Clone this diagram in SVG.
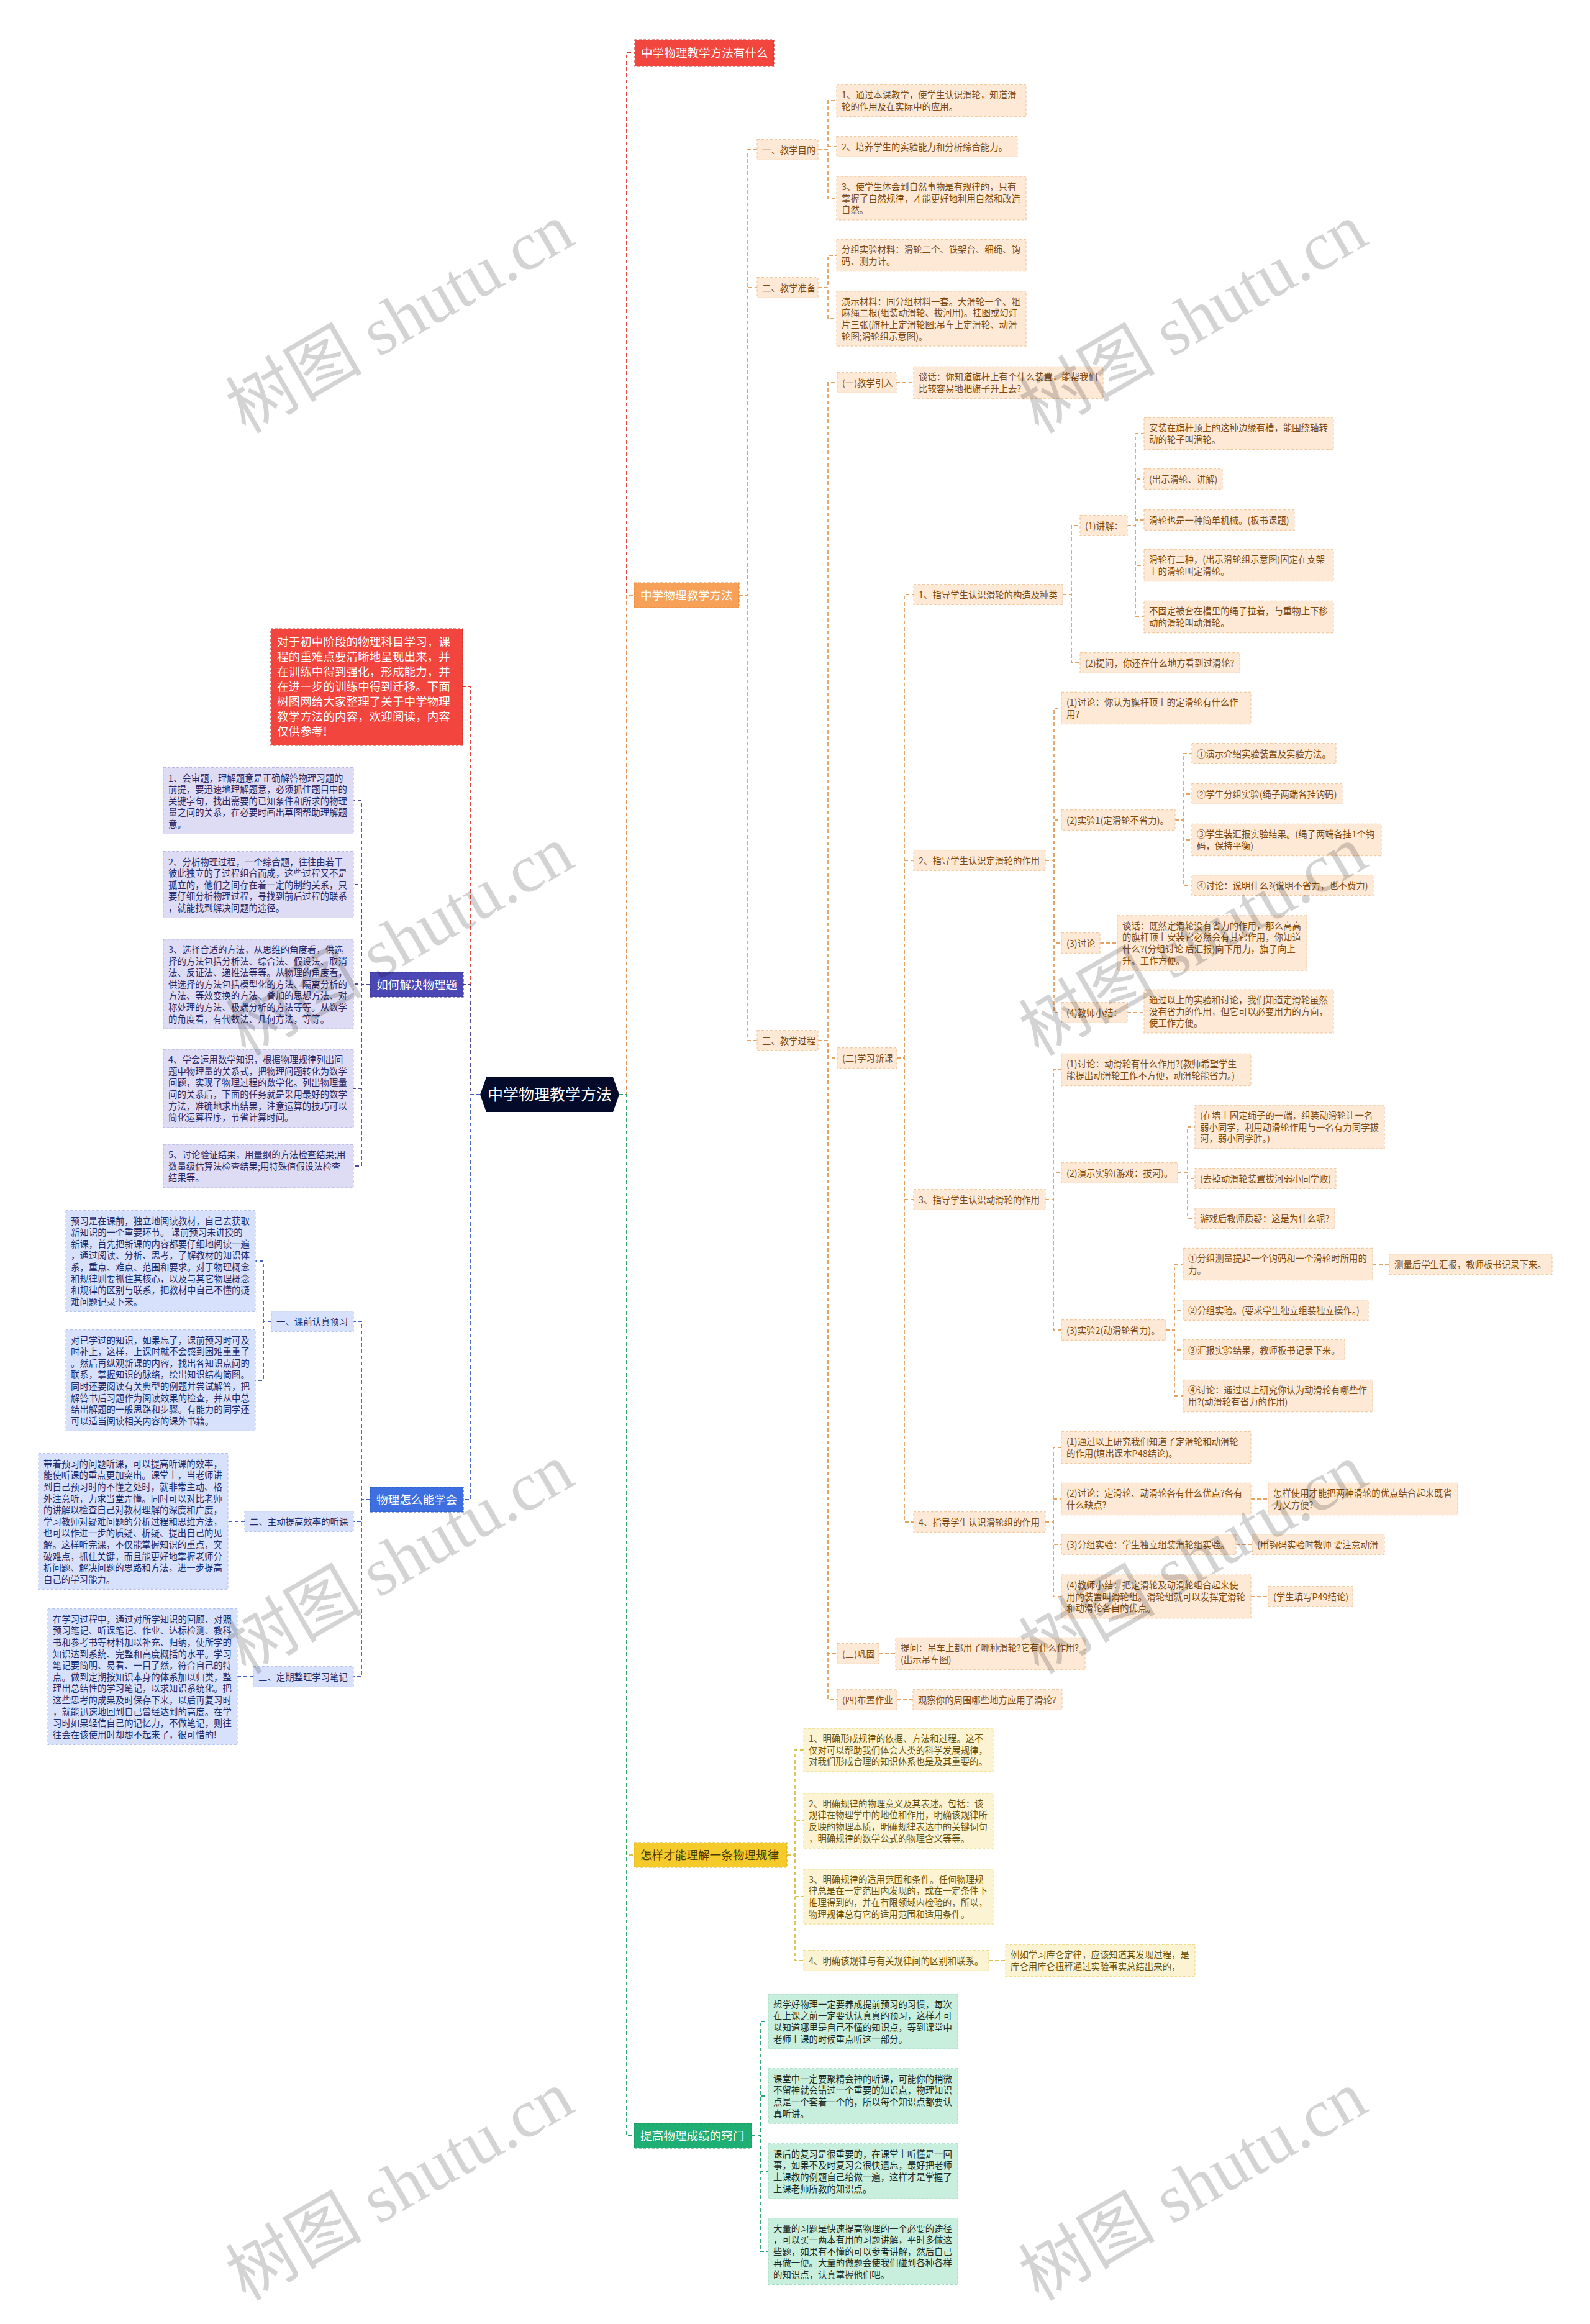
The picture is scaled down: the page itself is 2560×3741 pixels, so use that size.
<svg xmlns="http://www.w3.org/2000/svg" width="2560" height="3741" viewBox="0 0 2560 3741">
<style>
.s{font-family:"Noto Sans CJK SC","Noto Sans",sans-serif;font-size:14.4px}
.m{font-family:"Noto Sans CJK SC","Noto Sans",sans-serif;font-size:18.6px;fill:#fff}
rect.b{stroke-width:1.2;stroke-dasharray:4 3}
.bo{fill:#fde9d6;stroke:#f3c9a0}.to{fill:#7c4a12}
.by{fill:#fcf3d2;stroke:#eedc8a}.ty{fill:#6a5510}
.bg{fill:#c8efdd;stroke:#9fdcc0}.tg{fill:#1d2b26}
.bp{fill:#dddcf4;stroke:#b9b7e6}.tp{fill:#2a2866}
.bb{fill:#d8e1fb;stroke:#b3c3f2}.tb{fill:#1d2c6e}
.c{fill:none;stroke-width:1.8;stroke-dasharray:6 4}
.cr{stroke:#de3b33}.co{stroke:#e6a060}.cy{stroke:#d8c24c}.cg{stroke:#25a46c}.cp{stroke:#4b489c}.cb{stroke:#3c5fc4}
.w{font-family:"Liberation Serif","Noto Sans CJK SC",serif;font-size:110px;fill:#000;opacity:0.17}
</style>

<g id="connectors">
<path class="c cr" d="M997 1762H1009V85H1022"/>
<path class="c co" d="M997 1762H1009V958H1021"/>
<path class="c cy" d="M997 1762H1009V2986H1021"/>
<path class="c cg" d="M997 1762H1009V3438H1021"/>
<path class="c cr" d="M773 1762H758V1105H745"/>
<path class="c cp" d="M773 1762H758V1585H746"/>
<path class="c cb" d="M773 1762H758V2414H746"/>

<path class="c co" d="M1190 958H1204V241H1219"/>
<path class="c co" d="M1190 958H1204V463H1219"/>
<path class="c co" d="M1190 958H1204V1675H1219"/>
<path class="c co" d="M1317 241H1333V162H1347"/>
<path class="c co" d="M1317 241H1333V236H1347"/>
<path class="c co" d="M1317 241H1333V319H1347"/>
<path class="c co" d="M1317 463H1333V411H1347"/>
<path class="c co" d="M1317 463H1333V513H1347"/>
<path class="c co" d="M1317 1675H1333V616H1348"/>
<path class="c co" d="M1317 1675H1333V1703H1348"/>
<path class="c co" d="M1317 1675H1333V2662H1348"/>
<path class="c co" d="M1317 1675H1333V2736H1348"/>
<path class="c co" d="M1443 616H1471"/>
<path class="c co" d="M1415 2662H1442"/>
<path class="c co" d="M1444 2736H1470"/>
<path class="c co" d="M1444 1703H1456V957H1471"/>
<path class="c co" d="M1444 1703H1456V1385H1471"/>
<path class="c co" d="M1444 1703H1456V1931H1471"/>
<path class="c co" d="M1444 1703H1456V2450H1471"/>
<path class="c co" d="M1711 957H1725V846H1739"/>
<path class="c co" d="M1711 957H1725V1067H1739"/>
<path class="c co" d="M1815 846H1828V698H1842"/>
<path class="c co" d="M1815 846H1828V771H1842"/>
<path class="c co" d="M1815 846H1828V837H1842"/>
<path class="c co" d="M1815 846H1828V910H1842"/>
<path class="c co" d="M1815 846H1828V993H1842"/>
<path class="c co" d="M1683 1385H1697V1140H1709"/>
<path class="c co" d="M1683 1385H1697V1320H1709"/>
<path class="c co" d="M1683 1385H1697V1518H1709"/>
<path class="c co" d="M1683 1385H1697V1630H1709"/>
<path class="c co" d="M1771 1518H1799"/>
<path class="c co" d="M1815 1630H1842"/>
<path class="c co" d="M1892 1320H1905V1213H1919"/>
<path class="c co" d="M1892 1320H1905V1278H1919"/>
<path class="c co" d="M1892 1320H1905V1352H1919"/>
<path class="c co" d="M1892 1320H1905V1425H1919"/>
<path class="c co" d="M1683 1931H1696V1722H1709"/>
<path class="c co" d="M1683 1931H1696V1888H1709"/>
<path class="c co" d="M1683 1931H1696V2141H1709"/>
<path class="c co" d="M1896 1888H1912V1814H1924"/>
<path class="c co" d="M1896 1888H1912V1897H1924"/>
<path class="c co" d="M1896 1888H1912V1961H1924"/>
<path class="c co" d="M1877 2141H1891V2035H1905"/>
<path class="c co" d="M1877 2141H1891V2109H1905"/>
<path class="c co" d="M1877 2141H1891V2173H1905"/>
<path class="c co" d="M1877 2141H1891V2247H1905"/>
<path class="c co" d="M2210 2035H2237"/>
<path class="c co" d="M1683 2450H1696V2330H1709"/>
<path class="c co" d="M1683 2450H1696V2413H1709"/>
<path class="c co" d="M1683 2450H1696V2486H1709"/>
<path class="c co" d="M1683 2450H1696V2570H1709"/>
<path class="c co" d="M2014 2413H2042"/>
<path class="c co" d="M1990 2486H2016"/>
<path class="c co" d="M2014 2570H2042"/>

<path class="c cy" d="M1267 2986H1280V2817H1294"/>
<path class="c cy" d="M1267 2986H1280V2931H1294"/>
<path class="c cy" d="M1267 2986H1280V3053H1294"/>
<path class="c cy" d="M1267 2986H1280V3156H1294"/>
<path class="c cy" d="M1592 3156H1619"/>

<path class="c cg" d="M1210 3438H1224V3254H1237"/>
<path class="c cg" d="M1210 3438H1224V3374H1237"/>
<path class="c cg" d="M1210 3438H1224V3495H1237"/>
<path class="c cg" d="M1210 3438H1224V3624H1237"/>

<path class="c cp" d="M596 1585H582V1289H569"/>
<path class="c cp" d="M596 1585H582V1424H569"/>
<path class="c cp" d="M596 1585H582V1584H569"/>
<path class="c cp" d="M596 1585H582V1752H569"/>
<path class="c cp" d="M596 1585H582V1877H569"/>

<path class="c cb" d="M596 2414H582V2127H569"/>
<path class="c cb" d="M596 2414H582V2449H569"/>
<path class="c cb" d="M596 2414H582V2699H569"/>
<path class="c cb" d="M437 2127H424V2030H411"/>
<path class="c cb" d="M437 2127H424V2222H411"/>
<path class="c cb" d="M394 2449H367"/>
<path class="c cb" d="M408 2699H382"/>
</g>

<g id="root">
<polygon points="773,1762 783,1734 987,1734 997,1762 987,1790 783,1790" fill="#040a2a"/>
<text x="885" y="1771" text-anchor="middle" style="font-family:'Noto Sans CJK SC',sans-serif;font-size:25px;fill:#fff">中学物理教学方法</text>
</g>

<g id="n-red">
<rect x="1022" y="64" width="224" height="43" fill="#f2453d" stroke="#c8302a" stroke-width="1.2" stroke-dasharray="4 3"/>
<text class="m" x="1032" y="91.7">中学物理教学方法有什么</text>
</g>
<g id="n-orange">
<rect x="1021" y="938" width="169" height="40" fill="#f6a157" stroke="#dd8a40" stroke-width="1.2" stroke-dasharray="4 3"/>
<text class="m" x="1031" y="964.7">中学物理教学方法</text>
</g>
<g id="n-yellow">
<rect x="1021" y="2966" width="246" height="40" fill="#f4cb2a" stroke="#d8b020" stroke-width="1.2" stroke-dasharray="4 3"/>
<text class="m" x="1031" y="2992.7" style="fill:#4a3c00">怎样才能理解一条物理规律</text>
</g>
<g id="n-green">
<rect x="1021" y="3418" width="189" height="40" fill="#1fae74" stroke="#16905f" stroke-width="1.2" stroke-dasharray="4 3"/>
<text class="m" x="1031" y="3444.7">提高物理成绩的窍门</text>
</g>
<g id="n-intro">
<rect x="436" y="1012" width="309" height="188" fill="#f2453d" stroke="#c8302a" stroke-width="1.2" stroke-dasharray="4 3"/>
<text class="m" x="446" y="1040"><tspan x="446">对于初中阶段的物理科目学习，课</tspan><tspan x="446" dy="24">程的重难点要清晰地呈现出来，并</tspan><tspan x="446" dy="24">在训练中得到强化，形成能力，并</tspan><tspan x="446" dy="24">在进一步的训练中得到迁移。下面</tspan><tspan x="446" dy="24">树图网给大家整理了关于中学物理</tspan><tspan x="446" dy="24">教学方法的内容，欢迎阅读，内容</tspan><tspan x="446" dy="24">仅供参考!</tspan></text>
</g>
<g id="n-purple">
<rect x="596" y="1565" width="150" height="40" fill="#4b47b5" stroke="#34318a" stroke-width="1.2" stroke-dasharray="4 3"/>
<text class="m" x="606" y="1591.7">如何解决物理题</text>
</g>
<g id="n-blue">
<rect x="596" y="2394" width="150" height="40" fill="#3d6fe0" stroke="#2a55b8" stroke-width="1.2" stroke-dasharray="4 3"/>
<text class="m" x="606" y="2420.7">物理怎么能学会</text>
</g>

<g id="a1"><rect class="b bo" x="1219" y="224.7" width="98" height="32.6"/><text class="s to" x="1227" y="246.7">一、教学目的</text></g>
<g id="a2"><rect class="b bo" x="1219" y="446.7" width="98" height="32.6"/><text class="s to" x="1227" y="468.7">二、教学准备</text></g>
<g id="a3"><rect class="b bo" x="1219" y="1658.7" width="98" height="32.6"/><text class="s to" x="1227" y="1680.7">三、教学过程</text></g>

<g id="c1"><rect class="b bo" x="1347" y="136.4" width="305" height="51.2"/><text class="s to" x="1355" y="158.4"><tspan x="1355">1、通过本课教学，使学生认识滑轮，知道滑</tspan><tspan x="1355" dy="18.6">轮的作用及在实际中的应用。</tspan></text></g>
<g id="c2"><rect class="b bo" x="1347" y="219.7" width="291" height="32.6"/><text class="s to" x="1355" y="241.7">2、培养学生的实验能力和分析综合能力。</text></g>
<g id="c3"><rect class="b bo" x="1347" y="284.1" width="305" height="69.8"/><text class="s to" x="1355" y="306.1"><tspan x="1355">3、使学生体会到自然事物是有规律的，只有</tspan><tspan x="1355" dy="18.6">掌握了自然规律，才能更好地利用自然和改造</tspan><tspan x="1355" dy="18.6">自然。</tspan></text></g>
<g id="d1"><rect class="b bo" x="1347" y="385.4" width="305" height="51.2"/><text class="s to" x="1355" y="407.4"><tspan x="1355">分组实验材料：滑轮二个、铁架台、细绳、钩</tspan><tspan x="1355" dy="18.6">码、测力计。</tspan></text></g>
<g id="d2"><rect class="b bo" x="1347" y="468.8" width="305" height="88.4"/><text class="s to" x="1355" y="490.8"><tspan x="1355">演示材料：同分组材料一套。大滑轮一个、粗</tspan><tspan x="1355" dy="18.6">麻绳二根(组装动滑轮、拔河用)。挂图或幻灯</tspan><tspan x="1355" dy="18.6">片三张(旗杆上定滑轮图;吊车上定滑轮、动滑</tspan><tspan x="1355" dy="18.6">轮图;滑轮组示意图)。</tspan></text></g>

<g id="e1"><rect class="b bo" x="1348" y="599.7" width="95" height="32.6"/><text class="s to" x="1356" y="621.7">(一)教学引入</text></g>
<g id="e1a"><rect class="b bo" x="1471" y="590.4" width="305" height="51.2"/><text class="s to" x="1479" y="612.4"><tspan x="1479">谈话：你知道旗杆上有个什么装置，能帮我们</tspan><tspan x="1479" dy="18.6">比较容易地把旗子升上去?</tspan></text></g>
<g id="e2"><rect class="b bo" x="1348" y="1686.7" width="96" height="32.6"/><text class="s to" x="1356" y="1708.7">(二)学习新课</text></g>
<g id="e3"><rect class="b bo" x="1348" y="2645.7" width="67" height="32.6"/><text class="s to" x="1356" y="2667.7">(三)巩固</text></g>
<g id="e3a"><rect class="b bo" x="1442" y="2636.4" width="305" height="51.2"/><text class="s to" x="1450" y="2658.4"><tspan x="1450">提问：吊车上都用了哪种滑轮?它有什么作用?</tspan><tspan x="1450" dy="18.6">(出示吊车图)</tspan></text></g>
<g id="e4"><rect class="b bo" x="1348" y="2719.7" width="96" height="32.6"/><text class="s to" x="1356" y="2741.7">(四)布置作业</text></g>
<g id="e4a"><rect class="b bo" x="1470" y="2719.7" width="240" height="32.6"/><text class="s to" x="1478" y="2741.7">观察你的周围哪些地方应用了滑轮?</text></g>

<g id="b1"><rect class="b bo" x="1471" y="940.7" width="240" height="32.6"/><text class="s to" x="1479" y="962.7">1、指导学生认识滑轮的构造及种类</text></g>
<g id="b2"><rect class="b bo" x="1471" y="1368.7" width="212" height="32.6"/><text class="s to" x="1479" y="1390.7">2、指导学生认识定滑轮的作用</text></g>
<g id="b3"><rect class="b bo" x="1471" y="1914.7" width="212" height="32.6"/><text class="s to" x="1479" y="1936.7">3、指导学生认识动滑轮的作用</text></g>
<g id="b4"><rect class="b bo" x="1471" y="2433.7" width="212" height="32.6"/><text class="s to" x="1479" y="2455.7">4、指导学生认识滑轮组的作用</text></g>

<g id="f1"><rect class="b bo" x="1739" y="829.7" width="76" height="32.6"/><text class="s to" x="1747" y="851.7">(1)讲解：</text></g>
<g id="f2"><rect class="b bo" x="1739" y="1050.7" width="257" height="32.6"/><text class="s to" x="1747" y="1072.7">(2)提问，你还在什么地方看到过滑轮?</text></g>
<g id="g1"><rect class="b bo" x="1842" y="672.4" width="305" height="51.2"/><text class="s to" x="1850" y="694.4"><tspan x="1850">安装在旗杆顶上的这种边缘有槽，能围绕轴转</tspan><tspan x="1850" dy="18.6">动的轮子叫滑轮。</tspan></text></g>
<g id="g2"><rect class="b bo" x="1842" y="754.7" width="126" height="32.6"/><text class="s to" x="1850" y="776.7">(出示滑轮、讲解)</text></g>
<g id="g3"><rect class="b bo" x="1842" y="820.7" width="242" height="32.6"/><text class="s to" x="1850" y="842.7">滑轮也是一种简单机械。(板书课题)</text></g>
<g id="g4"><rect class="b bo" x="1842" y="884.4" width="305" height="51.2"/><text class="s to" x="1850" y="906.4"><tspan x="1850">滑轮有二种，(出示滑轮组示意图)固定在支架</tspan><tspan x="1850" dy="18.6">上的滑轮叫定滑轮。</tspan></text></g>
<g id="g5"><rect class="b bo" x="1842" y="967.4" width="305" height="51.2"/><text class="s to" x="1850" y="989.4"><tspan x="1850">不固定被套在槽里的绳子拉着，与重物上下移</tspan><tspan x="1850" dy="18.6">动的滑轮叫动滑轮。</tspan></text></g>

<g id="h1"><rect class="b bo" x="1709" y="1114.4" width="305" height="51.2"/><text class="s to" x="1717" y="1136.4"><tspan x="1717">(1)讨论：你认为旗杆顶上的定滑轮有什么作</tspan><tspan x="1717" dy="18.6">用?</tspan></text></g>
<g id="h2"><rect class="b bo" x="1709" y="1303.7" width="183" height="32.6"/><text class="s to" x="1717" y="1325.7">(2)实验1(定滑轮不省力)。</text></g>
<g id="h3"><rect class="b bo" x="1709" y="1501.7" width="62" height="32.6"/><text class="s to" x="1717" y="1523.7">(3)讨论</text></g>
<g id="h3a"><rect class="b bo" x="1799" y="1473.8" width="305" height="88.4"/><text class="s to" x="1807" y="1495.8"><tspan x="1807">谈话：既然定滑轮没有省力的作用，那么高高</tspan><tspan x="1807" dy="18.6">的旗杆顶上安装它必然会有其它作用，你知道</tspan><tspan x="1807" dy="18.6">什么?(分组讨论 后汇报)向下用力，旗子向上</tspan><tspan x="1807" dy="18.6">升。工作方便。</tspan></text></g>
<g id="h4"><rect class="b bo" x="1709" y="1613.7" width="106" height="32.6"/><text class="s to" x="1717" y="1635.7">(4)教师小结：</text></g>
<g id="h4a"><rect class="b bo" x="1842" y="1593.1" width="305" height="69.8"/><text class="s to" x="1850" y="1615.1"><tspan x="1850">通过以上的实验和讨论，我们知道定滑轮虽然</tspan><tspan x="1850" dy="18.6">没有省力的作用，但它可以必变用力的方向，</tspan><tspan x="1850" dy="18.6">使工作方便。</tspan></text></g>
<g id="i1"><rect class="b bo" x="1919" y="1196.7" width="232" height="32.6"/><text class="s to" x="1927" y="1218.7">①演示介绍实验装置及实验方法。</text></g>
<g id="i2"><rect class="b bo" x="1919" y="1261.7" width="242" height="32.6"/><text class="s to" x="1927" y="1283.7">②学生分组实验(绳子两端各挂钩码)</text></g>
<g id="i3"><rect class="b bo" x="1919" y="1326.4" width="305" height="51.2"/><text class="s to" x="1927" y="1348.4"><tspan x="1927">③学生装汇报实验结果。(绳子两端各挂1个钩</tspan><tspan x="1927" dy="18.6">码，保持平衡)</tspan></text></g>
<g id="i4"><rect class="b bo" x="1919" y="1408.7" width="292" height="32.6"/><text class="s to" x="1927" y="1430.7">④讨论：说明什么?(说明不省力，也不费力)</text></g>

<g id="j1"><rect class="b bo" x="1709" y="1696.4" width="305" height="51.2"/><text class="s to" x="1717" y="1718.4"><tspan x="1717">(1)讨论：动滑轮有什么作用?(教师希望学生</tspan><tspan x="1717" dy="18.6">能提出动滑轮工作不方便，动滑轮能省力。)</tspan></text></g>
<g id="j2"><rect class="b bo" x="1709" y="1871.7" width="187" height="32.6"/><text class="s to" x="1717" y="1893.7">(2)演示实验(游戏：拔河)。</text></g>
<g id="j3"><rect class="b bo" x="1709" y="2124.7" width="168" height="32.6"/><text class="s to" x="1717" y="2146.7">(3)实验2(动滑轮省力)。</text></g>
<g id="k1"><rect class="b bo" x="1924" y="1779.1" width="305" height="69.8"/><text class="s to" x="1932" y="1801.1"><tspan x="1932">(在墙上固定绳子的一端，组装动滑轮让一名</tspan><tspan x="1932" dy="18.6">弱小同学，利用动滑轮作用与一名有力同学拔</tspan><tspan x="1932" dy="18.6">河，弱小同学胜。)</tspan></text></g>
<g id="k2"><rect class="b bo" x="1924" y="1880.7" width="227" height="32.6"/><text class="s to" x="1932" y="1902.7">(去掉动滑轮装置拔河弱小同学败)</text></g>
<g id="k3"><rect class="b bo" x="1924" y="1944.7" width="225" height="32.6"/><text class="s to" x="1932" y="1966.7">游戏后教师质疑：这是为什么呢?</text></g>
<g id="l1"><rect class="b bo" x="1905" y="2009.4" width="305" height="51.2"/><text class="s to" x="1913" y="2031.4"><tspan x="1913">①分组测量提起一个钩码和一个滑轮时所用的</tspan><tspan x="1913" dy="18.6">力。</tspan></text></g>
<g id="l1a"><rect class="b bo" x="2237" y="2018.7" width="262" height="32.6"/><text class="s to" x="2245" y="2040.7">测量后学生汇报，教师板书记录下来。</text></g>
<g id="l2"><rect class="b bo" x="1905" y="2092.7" width="298" height="32.6"/><text class="s to" x="1913" y="2114.7">②分组实验。(要求学生独立组装独立操作。)</text></g>
<g id="l3"><rect class="b bo" x="1905" y="2156.7" width="260" height="32.6"/><text class="s to" x="1913" y="2178.7">③汇报实验结果，教师板书记录下来。</text></g>
<g id="l4"><rect class="b bo" x="1905" y="2221.4" width="305" height="51.2"/><text class="s to" x="1913" y="2243.4"><tspan x="1913">④讨论：通过以上研究你认为动滑轮有哪些作</tspan><tspan x="1913" dy="18.6">用?(动滑轮有省力的作用)</tspan></text></g>

<g id="m1"><rect class="b bo" x="1709" y="2304.4" width="305" height="51.2"/><text class="s to" x="1717" y="2326.4"><tspan x="1717">(1)通过以上研究我们知道了定滑轮和动滑轮</tspan><tspan x="1717" dy="18.6">的作用(填出课本P48结论)。</tspan></text></g>
<g id="m2"><rect class="b bo" x="1709" y="2387.4" width="305" height="51.2"/><text class="s to" x="1717" y="2409.4"><tspan x="1717">(2)讨论：定滑轮、动滑轮各有什么优点?各有</tspan><tspan x="1717" dy="18.6">什么缺点?</tspan></text></g>
<g id="m2a"><rect class="b bo" x="2042" y="2387.4" width="305" height="51.2"/><text class="s to" x="2050" y="2409.4"><tspan x="2050">怎样使用才能把两种滑轮的优点结合起来既省</tspan><tspan x="2050" dy="18.6">力又方便?</tspan></text></g>
<g id="m3"><rect class="b bo" x="1709" y="2469.7" width="281" height="32.6"/><text class="s to" x="1717" y="2491.7">(3)分组实验：学生独立组装滑轮组实验。</text></g>
<g id="m3a"><rect class="b bo" x="2016" y="2469.7" width="213" height="32.6"/><text class="s to" x="2024" y="2491.7">(用钩码实验时教师 要注意动滑</text></g>
<g id="m4"><rect class="b bo" x="1709" y="2535.1" width="305" height="69.8"/><text class="s to" x="1717" y="2557.1"><tspan x="1717">(4)教师小结：把定滑轮及动滑轮组合起来使</tspan><tspan x="1717" dy="18.6">用的装置叫滑轮组。滑轮组就可以发挥定滑轮</tspan><tspan x="1717" dy="18.6">和动滑轮各自的优点。</tspan></text></g>
<g id="m4a"><rect class="b bo" x="2042" y="2553.7" width="136" height="32.6"/><text class="s to" x="2050" y="2575.7">(学生填写P49结论)</text></g>

<g id="y1"><rect class="b by" x="1294" y="2782.1" width="305" height="69.8"/><text class="s ty" x="1302" y="2804.1"><tspan x="1302">1、明确形成规律的依据、方法和过程。这不</tspan><tspan x="1302" dy="18.6">仅对可以帮助我们体会人类的科学发展规律，</tspan><tspan x="1302" dy="18.6">对我们形成合理的知识体系也是及其重要的。</tspan></text></g>
<g id="y2"><rect class="b by" x="1294" y="2886.8" width="305" height="88.4"/><text class="s ty" x="1302" y="2908.8"><tspan x="1302">2、明确规律的物理意义及其表述。包括：该</tspan><tspan x="1302" dy="18.6">规律在物理学中的地位和作用，明确该规律所</tspan><tspan x="1302" dy="18.6">反映的物理本质，明确规律表达中的关键词句</tspan><tspan x="1302" dy="18.6">，明确规律的数学公式的物理含义等等。</tspan></text></g>
<g id="y3"><rect class="b by" x="1294" y="3008.8" width="305" height="88.4"/><text class="s ty" x="1302" y="3030.8"><tspan x="1302">3、明确规律的适用范围和条件。任何物理规</tspan><tspan x="1302" dy="18.6">律总是在一定范围内发现的，或在一定条件下</tspan><tspan x="1302" dy="18.6">推理得到的，并在有限领域内检验的，所以，</tspan><tspan x="1302" dy="18.6">物理规律总有它的适用范围和适用条件。</tspan></text></g>
<g id="y4"><rect class="b by" x="1294" y="3139.7" width="298" height="32.6"/><text class="s ty" x="1302" y="3161.7">4、明确该规律与有关规律间的区别和联系。</text></g>
<g id="y4a"><rect class="b by" x="1619" y="3130.4" width="305" height="51.2"/><text class="s ty" x="1627" y="3152.4"><tspan x="1627">例如学习库仑定律，应该知道其发现过程，是</tspan><tspan x="1627" dy="18.6">库仑用库仑扭秤通过实验事实总结出来的，</tspan></text></g>

<g id="gr1"><rect class="b bg" x="1237" y="3209.8" width="305" height="88.4"/><text class="s tg" x="1245" y="3231.8"><tspan x="1245">想学好物理一定要养成提前预习的习惯，每次</tspan><tspan x="1245" dy="18.6">在上课之前一定要认认真真的预习，这样才可</tspan><tspan x="1245" dy="18.6">以知道哪里是自己不懂的知识点，等到课堂中</tspan><tspan x="1245" dy="18.6">老师上课的时候重点听这一部分。</tspan></text></g>
<g id="gr2"><rect class="b bg" x="1237" y="3329.8" width="305" height="88.4"/><text class="s tg" x="1245" y="3351.8"><tspan x="1245">课堂中一定要聚精会神的听课，可能你的稍微</tspan><tspan x="1245" dy="18.6">不留神就会错过一个重要的知识点，物理知识</tspan><tspan x="1245" dy="18.6">点是一个套着一个的，所以每个知识点都要认</tspan><tspan x="1245" dy="18.6">真听讲。</tspan></text></g>
<g id="gr3"><rect class="b bg" x="1237" y="3450.8" width="305" height="88.4"/><text class="s tg" x="1245" y="3472.8"><tspan x="1245">课后的复习是很重要的，在课堂上听懂是一回</tspan><tspan x="1245" dy="18.6">事，如果不及时复习会很快遗忘，最好把老师</tspan><tspan x="1245" dy="18.6">上课教的例题自己给做一遍，这样才是掌握了</tspan><tspan x="1245" dy="18.6">上课老师所教的知识点。</tspan></text></g>
<g id="gr4"><rect class="b bg" x="1237" y="3570.5" width="305" height="107"/><text class="s tg" x="1245" y="3592.5"><tspan x="1245">大量的习题是快速提高物理的一个必要的途径</tspan><tspan x="1245" dy="18.6">，可以买一两本有用的习题讲解，平时多做这</tspan><tspan x="1245" dy="18.6">些题，如果有不懂的可以参考讲解，然后自己</tspan><tspan x="1245" dy="18.6">再做一便。大量的做题会使我们碰到各种各样</tspan><tspan x="1245" dy="18.6">的知识点，认真掌握他们吧。</tspan></text></g>

<g id="p1"><rect class="b bp" x="263" y="1235.5" width="306" height="107"/><text class="s tp" x="271" y="1257.5"><tspan x="271">1、会审题，理解题意是正确解答物理习题的</tspan><tspan x="271" dy="18.6">前提，要迅速地理解题意，必须抓住题目中的</tspan><tspan x="271" dy="18.6">关键字句，找出需要的已知条件和所求的物理</tspan><tspan x="271" dy="18.6">量之间的关系，在必要时画出草图帮助理解题</tspan><tspan x="271" dy="18.6">意。</tspan></text></g>
<g id="p2"><rect class="b bp" x="263" y="1370.5" width="306" height="107"/><text class="s tp" x="271" y="1392.5"><tspan x="271">2、分析物理过程，一个综合题，往往由若干</tspan><tspan x="271" dy="18.6">彼此独立的子过程组合而成，这些过程又不是</tspan><tspan x="271" dy="18.6">孤立的，他们之间存在着一定的制约关系，只</tspan><tspan x="271" dy="18.6">要仔细分析物理过程，寻找到前后过程的联系</tspan><tspan x="271" dy="18.6">，就能找到解决问题的途径。</tspan></text></g>
<g id="p3"><rect class="b bp" x="263" y="1511.9" width="306" height="144.2"/><text class="s tp" x="271" y="1533.9"><tspan x="271">3、选择合适的方法，从思维的角度看，供选</tspan><tspan x="271" dy="18.6">择的方法包括分析法、综合法、假设法、取消</tspan><tspan x="271" dy="18.6">法、反证法、递推法等等。从物理的角度看，</tspan><tspan x="271" dy="18.6">供选择的方法包括模型化的方法、隔离分析的</tspan><tspan x="271" dy="18.6">方法、等效变换的方法、叠加的思想方法、对</tspan><tspan x="271" dy="18.6">称处理的方法、极端分析的方法等等。从数学</tspan><tspan x="271" dy="18.6">的角度看，有代数法、几何方法，等等。</tspan></text></g>
<g id="p4"><rect class="b bp" x="263" y="1689.2" width="306" height="125.6"/><text class="s tp" x="271" y="1711.2"><tspan x="271">4、学会运用数学知识，根据物理规律列出问</tspan><tspan x="271" dy="18.6">题中物理量的关系式，把物理问题转化为数学</tspan><tspan x="271" dy="18.6">问题，实现了物理过程的数学化。列出物理量</tspan><tspan x="271" dy="18.6">间的关系后，下面的任务就是采用最好的数学</tspan><tspan x="271" dy="18.6">方法，准确地求出结果，注意运算的技巧可以</tspan><tspan x="271" dy="18.6">简化运算程序，节省计算时间。</tspan></text></g>
<g id="p5"><rect class="b bp" x="263" y="1842.1" width="306" height="69.8"/><text class="s tp" x="271" y="1864.1"><tspan x="271">5、讨论验证结果，用量纲的方法检查结果;用</tspan><tspan x="271" dy="18.6">数量级估算法检查结果;用特殊值假设法检查</tspan><tspan x="271" dy="18.6">结果等。</tspan></text></g>

<g id="q1"><rect class="b bb" x="437" y="2110.7" width="132" height="32.6"/><text class="s tb" x="445" y="2132.7">一、课前认真预习</text></g>
<g id="q2"><rect class="b bb" x="394" y="2432.7" width="175" height="32.6"/><text class="s tb" x="402" y="2454.7">二、主动提高效率的听课</text></g>
<g id="q3"><rect class="b bb" x="408" y="2682.7" width="161" height="32.6"/><text class="s tb" x="416" y="2704.7">三、定期整理学习笔记</text></g>
<g id="r1"><rect class="b bb" x="106" y="1948.6" width="305" height="162.8"/><text class="s tb" x="114" y="1970.6"><tspan x="114">预习是在课前，独立地阅读教材，自己去获取</tspan><tspan x="114" dy="18.6">新知识的一个重要环节。 课前预习未讲授的</tspan><tspan x="114" dy="18.6">新课，首先把新课的内容都要仔细地阅读一遍</tspan><tspan x="114" dy="18.6">，通过阅读、分析、思考，了解教材的知识体</tspan><tspan x="114" dy="18.6">系，重点、难点、范围和要求。对于物理概念</tspan><tspan x="114" dy="18.6">和规律则要抓住其核心，以及与其它物理概念</tspan><tspan x="114" dy="18.6">和规律的区别与联系，把教材中自己不懂的疑</tspan><tspan x="114" dy="18.6">难问题记录下来。</tspan></text></g>
<g id="r2"><rect class="b bb" x="106" y="2140.6" width="305" height="162.8"/><text class="s tb" x="114" y="2162.6"><tspan x="114">对已学过的知识，如果忘了，课前预习时可及</tspan><tspan x="114" dy="18.6">时补上，这样，上课时就不会感到困难重重了</tspan><tspan x="114" dy="18.6">。然后再纵观新课的内容，找出各知识点间的</tspan><tspan x="114" dy="18.6">联系，掌握知识的脉络，绘出知识结构简图。</tspan><tspan x="114" dy="18.6">同时还要阅读有关典型的例题并尝试解答，把</tspan><tspan x="114" dy="18.6">解答书后习题作为阅读效果的检查，并从中总</tspan><tspan x="114" dy="18.6">结出解题的一般思路和步骤。有能力的同学还</tspan><tspan x="114" dy="18.6">可以适当阅读相关内容的课外书籍。</tspan></text></g>
<g id="r3"><rect class="b bb" x="62" y="2339.7" width="305" height="218.6"/><text class="s tb" x="70" y="2361.7"><tspan x="70">带着预习的问题听课，可以提高听课的效率，</tspan><tspan x="70" dy="18.6">能使听课的重点更加突出。课堂上，当老师讲</tspan><tspan x="70" dy="18.6">到自己预习时的不懂之处时，就非常主动、格</tspan><tspan x="70" dy="18.6">外注意听，力求当堂弄懂。同时可以对比老师</tspan><tspan x="70" dy="18.6">的讲解以检查自己对教材理解的深度和广度，</tspan><tspan x="70" dy="18.6">学习教师对疑难问题的分析过程和思维方法，</tspan><tspan x="70" dy="18.6">也可以作进一步的质疑、析疑、提出自己的见</tspan><tspan x="70" dy="18.6">解。这样听完课，不仅能掌握知识的重点，突</tspan><tspan x="70" dy="18.6">破难点，抓住关键，而且能更好地掌握老师分</tspan><tspan x="70" dy="18.6">析问题、解决问题的思路和方法，进一步提高</tspan><tspan x="70" dy="18.6">自己的学习能力。</tspan></text></g>
<g id="r4"><rect class="b bb" x="77" y="2589.7" width="305" height="218.6"/><text class="s tb" x="85" y="2611.7"><tspan x="85">在学习过程中，通过对所学知识的回顾、对照</tspan><tspan x="85" dy="18.6">预习笔记、听课笔记、作业、达标检测、教科</tspan><tspan x="85" dy="18.6">书和参考书等材料加以补充、归纳，使所学的</tspan><tspan x="85" dy="18.6">知识达到系统、完整和高度概括的水平。学习</tspan><tspan x="85" dy="18.6">笔记要简明、易看、一目了然，符合自己的特</tspan><tspan x="85" dy="18.6">点。做到定期按知识本身的体系加以归类，整</tspan><tspan x="85" dy="18.6">理出总结性的学习笔记，以求知识系统化。把</tspan><tspan x="85" dy="18.6">这些思考的成果及时保存下来，以后再复习时</tspan><tspan x="85" dy="18.6">，就能迅速地回到自己曾经达到的高度。在学</tspan><tspan x="85" dy="18.6">习时如果轻信自己的记忆力，不做笔记，则往</tspan><tspan x="85" dy="18.6">往会在该使用时却想不起来了，很可惜的!</tspan></text></g>

<g id="watermark">
<text class="w" x="644" y="550" text-anchor="middle" transform="rotate(-30 644 513)">树图 shutu.cn</text>
<text class="w" x="1921" y="550" text-anchor="middle" transform="rotate(-30 1921 513)">树图 shutu.cn</text>
<text class="w" x="644" y="1552" text-anchor="middle" transform="rotate(-30 644 1515)">树图 shutu.cn</text>
<text class="w" x="1921" y="1552" text-anchor="middle" transform="rotate(-30 1921 1515)">树图 shutu.cn</text>
<text class="w" x="644" y="2547" text-anchor="middle" transform="rotate(-30 644 2510)">树图 shutu.cn</text>
<text class="w" x="1921" y="2547" text-anchor="middle" transform="rotate(-30 1921 2510)">树图 shutu.cn</text>
<text class="w" x="644" y="3556" text-anchor="middle" transform="rotate(-30 644 3519)">树图 shutu.cn</text>
<text class="w" x="1921" y="3556" text-anchor="middle" transform="rotate(-30 1921 3519)">树图 shutu.cn</text>
</g>
</svg>
